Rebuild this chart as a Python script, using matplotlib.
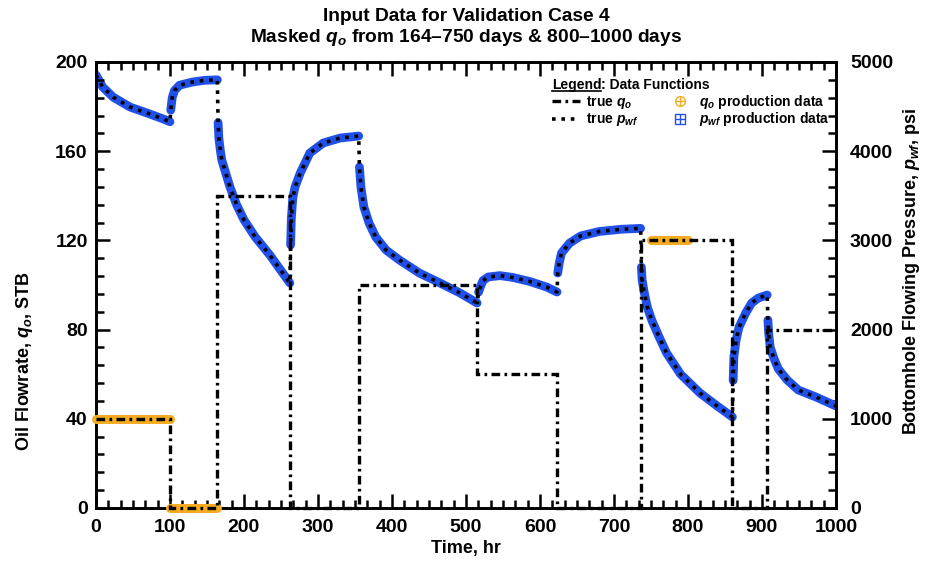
import matplotlib
matplotlib.use('Agg')
import matplotlib.pyplot as plt
import numpy as np
from matplotlib.lines import Line2D
from matplotlib.ticker import MultipleLocator, AutoMinorLocator
from matplotlib.transforms import IdentityTransform

# rate history: step times (hr) and oil rate of each flow period (STB)
step_time = [0, 100, 164, 262, 355, 515, 623, 736, 860, 907, 1000]
q_rate = [40, 0, 140, 0, 100, 60, 0, 120, 0, 80]

# windows where the rate data is kept (not masked)
obs_start = [0, 100, 750]
obs_end = [100, 164, 800]
obs_rate = [40, 0, 120]

# bottomhole flowing pressure, psi
p_time = [0, 9, 23, 46, 69, 91, 100,
          101, 103, 106, 113, 130, 147, 164,
          165, 166, 168, 170, 174, 181, 190, 200, 215, 235, 262,
          263, 264, 266, 269, 276, 289, 307, 330, 355,
          356, 358, 362, 369, 378, 392, 410, 437, 465, 492, 515,
          517, 519, 523, 530, 546, 563, 586, 609, 623,
          624, 626, 629, 640, 655, 680, 710, 736,
          737, 738, 741, 745, 751, 761, 771, 790, 816, 840, 860,
          861, 862, 865, 869, 878, 886, 895, 907,
          908, 909, 911, 916, 922, 934, 949, 973, 1000]
p_wf = [4855, 4720, 4607, 4495, 4428, 4361, 4330,
        4460, 4600, 4680, 4740, 4775, 4795, 4800,
        4320, 4150, 4010, 3900, 3790, 3600, 3400, 3230, 3040, 2835, 2522,
        2950, 3250, 3480, 3600, 3755, 3980, 4092, 4148, 4170,
        3823, 3598, 3374, 3195, 3038, 2892, 2780, 2634, 2522, 2410, 2298,
        2420, 2470, 2550, 2590, 2605, 2585, 2540, 2477, 2421,
        2634, 2746, 2858, 2970, 3050, 3100, 3125, 3135,
        2700, 2556, 2410, 2253, 2107, 1917, 1738, 1500, 1290, 1140, 1020,
        1430, 1693, 1883, 2029, 2186, 2298, 2354, 2388,
        2107, 1962, 1805, 1680, 1560, 1435, 1323, 1244, 1143]

BLUE = '#2150e8'
ORANGE = '#f5ab22'

plt.rcParams['font.family'] = ['Liberation Sans', 'DejaVu Sans']
plt.rcParams['font.weight'] = 'bold'
plt.rcParams['mathtext.fontset'] = 'custom'
plt.rcParams['mathtext.rm'] = 'Liberation Sans:bold'
plt.rcParams['mathtext.bf'] = 'Liberation Sans:bold'
plt.rcParams['mathtext.it'] = 'Liberation Sans:italic:bold'

fig = plt.figure(figsize=(9.36, 5.75), dpi=100)
ax = fig.add_axes([96 / 936, 1 - 508 / 575, 740 / 936, 446 / 575])
ax2 = ax.twinx()
ax.set_zorder(ax2.get_zorder() + 1)
ax.patch.set_visible(False)

# pressure data band, one piece per flow period, then the true curve
t = np.array(p_time)
p = np.array(p_wf)
for k in range(len(q_rate)):
    sel = (t > step_time[k]) & (t <= step_time[k + 1])
    if k == 0:
        sel |= t == step_time[0]
    ax2.plot(t[sel], p[sel], '-', color=BLUE, lw=6.3,
             solid_capstyle='round', solid_joinstyle='round', zorder=2)
ax2.plot(t, p, color='k', lw=2.6, ls=(0, (1, 1.6)), zorder=3)

# rate data and true rate
lc = ax.hlines(obs_rate, obs_start, obs_end, colors=ORANGE, lw=6.5,
               zorder=3, clip_on=False)
lc.set_capstyle('round')
ax.stairs(q_rate, step_time, baseline=None, color='k', lw=2.4,
          ls=(0, (2.6, 1.3, 0.8, 1.3)), zorder=4, clip_on=False)

ax.set_xlim(0, 1000)
ax.set_ylim(0, 200)
ax2.set_ylim(0, 5000)
ax.xaxis.set_major_locator(MultipleLocator(100))
ax.xaxis.set_minor_locator(AutoMinorLocator(6))
ax.yaxis.set_major_locator(MultipleLocator(40))
ax.yaxis.set_minor_locator(AutoMinorLocator(5))
ax2.yaxis.set_major_locator(MultipleLocator(1000))
ax2.yaxis.set_minor_locator(AutoMinorLocator(5))

for a in (ax, ax2):
    for s in a.spines.values():
        s.set_linewidth(1.9)
ax.tick_params(which='both', direction='in', top=True, right=False,
               width=1.8, labelsize=14)
ax.tick_params(which='major', length=10)
ax.tick_params(which='minor', length=5.5)
ax.tick_params(axis='x', pad=8)
ax.tick_params(axis='y', pad=6)
ax2.tick_params(which='both', direction='in', width=1.8, labelsize=14, pad=10)
ax2.tick_params(which='major', length=10)
ax2.tick_params(which='minor', length=5.5)

ax.set_xlabel('Time, hr', fontsize=13, fontweight='bold', labelpad=3)
ax.set_ylabel(r'Oil Flowrate, $q_o$, STB', fontsize=13, fontweight='bold')
ax.yaxis.set_label_coords(-0.082, 0.33)
ax2.set_ylabel(r'Bottomhole Flowing Pressure, $p_{wf}$, psi', fontsize=13,
               fontweight='bold')
ax2.yaxis.set_label_coords(1.088, 0.53)

fig.text(0.498, 1 - 21 / 575, 'Input Data for Validation Case 4',
         ha='center', va='baseline', fontsize=13.8, fontweight='bold')
fig.text(0.498, 1 - 42 / 575, r'Masked $q_o$ from 164–750 days & 800–1000 days',
         ha='center', va='baseline', fontsize=13.8, fontweight='bold')

# legend box, drawn by hand
lx, hx0, hx1, tx = 0.616, 0.616, 0.654, 0.662
mx, mtx = 0.789, 0.815
ly, r1, r2 = 0.9395, 0.9013, 0.8632
fs = 10
leg = ax.text(lx, ly, 'Legend', transform=ax.transAxes, va='baseline',
              fontsize=fs, fontweight='bold')
ax.annotate(': Data Functions', xy=(1, ly), xycoords=(leg, 'axes fraction'),
            va='baseline', ha='left', fontsize=fs, fontweight='bold')
ax.plot([hx0, hx1], [r1 + 0.011] * 2, transform=ax.transAxes, color='k',
        lw=2.4, ls=(0, (2.6, 1.3, 0.8, 1.3)), clip_on=False)
ax.plot([hx0, hx1], [r2 + 0.010] * 2, transform=ax.transAxes, color='k',
        lw=2.6, ls=(0, (1, 1.6)), clip_on=False)
ax.text(tx, r1, r'true $q_o$', transform=ax.transAxes, va='baseline',
        fontsize=fs, fontweight='bold')
ax.text(tx, r2, r'true $p_{wf}$', transform=ax.transAxes, va='baseline',
        fontsize=fs, fontweight='bold')
ax.plot([mx], [r1 + 0.011], 'o', mfc='none', mec=ORANGE, ms=7, mew=1,
        transform=ax.transAxes, clip_on=False)
ax.plot([mx], [r1 + 0.011], '+', mec=ORANGE, ms=7, mew=1,
        transform=ax.transAxes, clip_on=False)
ax.plot([mx], [r2 + 0.010], 's', mfc='none', mec=BLUE, ms=7, mew=1,
        transform=ax.transAxes, clip_on=False)
ax.plot([mx], [r2 + 0.010], '+', mec=BLUE, ms=7, mew=1,
        transform=ax.transAxes, clip_on=False)
ax.text(mtx, r1, r'$q_o$ production data', transform=ax.transAxes,
        va='baseline', fontsize=fs, fontweight='bold')
ax.text(mtx, r2, r'$p_{wf}$ production data', transform=ax.transAxes,
        va='baseline', fontsize=fs, fontweight='bold')

# underline under "Legend"
fig.canvas.draw()
bb = leg.get_window_extent(fig.canvas.get_renderer())
base = ax.transAxes.transform((lx, ly))[1] - 2
fig.add_artist(Line2D([bb.x0, bb.x1], [base, base], transform=IdentityTransform(),
                      color='k', lw=1.2))

fig.savefig('out.png', dpi=100)
